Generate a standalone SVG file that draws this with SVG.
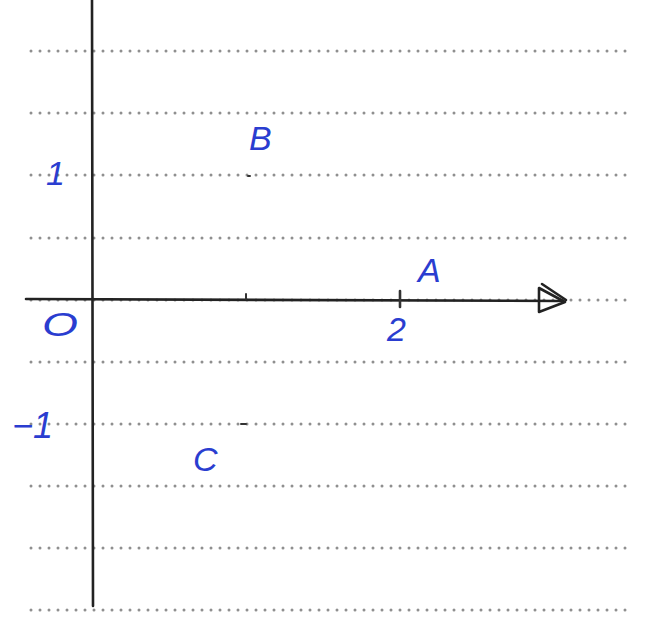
<svg xmlns="http://www.w3.org/2000/svg" width="652" height="629" viewBox="0 0 652 629">
<style>
.grid{stroke:#8f8f8f;stroke-width:3;stroke-linecap:round;stroke-dasharray:0 9;fill:none}
.axis{stroke:#222;stroke-width:2.6;fill:none;stroke-linecap:round;stroke-linejoin:round}
.lbl{font-family:"Liberation Sans",Arial,sans-serif;font-size:34px;fill:#2a3dd0;font-style:italic}
.mark{stroke:#333;stroke-width:2;stroke-linecap:round}
</style>
<rect width="652" height="629" fill="#ffffff"/>
<g id="grid">
<path class="grid" d="M31 51H628M31 113H628M31 175H628M31 238H628M31 300H628M31 362H628M31 424H628M31 486H628M31 548H628M31 610H628"/>
</g>
<g id="connectors">
<path class="axis" d="M92 0L93 606"/>
<path class="axis" d="M26 299L562 301"/>
<path class="axis" d="M539 288L539 312L565 302Z"/>
<path class="axis" d="M542 284L566 300"/>
</g>
<g id="marks">
<path class="mark" d="M248 176h2"/>
<path class="mark" d="M246 294v5"/>
<path class="mark" d="M400 291v16" style="stroke-width:2.6"/>
<path class="mark" d="M241 424h5"/>
</g>
<g id="label-1"><text class="lbl" x="46" y="185">1</text></g>
<g id="label-B"><text class="lbl" x="249" y="150">B</text></g>
<g id="label-A"><text class="lbl" x="418" y="282">A</text></g>
<g id="label-2"><text class="lbl" x="387" y="341">2</text></g>
<g id="label-O"><text class="lbl" x="42" y="336" textLength="36" lengthAdjust="spacingAndGlyphs">O</text></g>
<g id="label-m1"><text class="lbl" x="12" y="438" style="font-size:36px">−1</text></g>
<g id="label-C"><text class="lbl" x="193" y="471">C</text></g>
</svg>
